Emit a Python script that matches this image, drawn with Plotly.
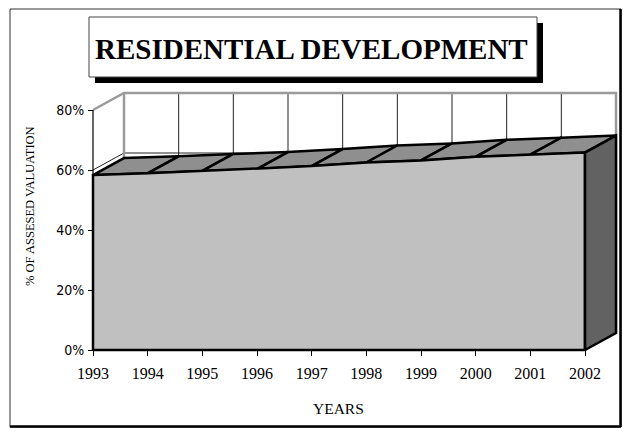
import plotly.graph_objects as go

# ---- data -------------------------------------------------------------
years = ["1993", "1994", "1995", "1996", "1997", "1998", "1999", "2000", "2001", "2002"]
residential_share = [58.3, 58.9, 59.7, 60.3, 61.3, 62.5, 63.2, 64.4, 65.1, 65.8]
value_ticks = [0, 20, 40, 60, 80]

# ---- canvas / projection ----------------------------------------------
W, H = 623, 428
PX_PER_YEAR = 54.667          # horizontal scale of the category axis
PX_PER_PCT = 3.0              # vertical scale of the value axis
X0_PX, Y0_PX = 93, 350        # pixel position of (first year, 0 %)
DEPTH_PX = (31, 17)           # oblique offset of the back plane

DX = DEPTH_PX[0] / PX_PER_YEAR
DY = DEPTH_PX[1] / PX_PER_PCT
n = len(years)
xs = list(range(n))
VMAX = value_ticks[-1]

x_range = [-X0_PX / PX_PER_YEAR, (W - X0_PX) / PX_PER_YEAR]
y_range = [-(H - Y0_PX) / PX_PER_PCT, Y0_PX / PX_PER_PCT]


def px(x):
    return x / W


def py(y):
    return 1 - y / H


SERIF = "Liberation Serif, Times New Roman, serif"
NARROW = "DejaVu Sans Condensed, Liberation Sans Narrow, Arial Narrow, sans-serif"

FRONT = "#c0c0c0"
TOP = "#8f8f8f"
SIDE = "#626262"
WALL_EDGE = "#9a9a9a"

fig = go.Figure()


def poly(xv, yv, fill, line_color="black", width=2.5):
    fig.add_trace(go.Scatter(
        x=list(xv) + [xv[0]], y=list(yv) + [yv[0]], mode="lines",
        fill="toself", fillcolor=fill,
        line=dict(color=line_color, width=width),
        hoverinfo="skip", showlegend=False))


def seg(xv, yv, color, width):
    fig.add_trace(go.Scatter(
        x=xv, y=yv, mode="lines", line=dict(color=color, width=width),
        hoverinfo="skip", showlegend=False))


# walls (left side wall and back wall)
poly([0, DX, DX, 0], [0, DY, VMAX + DY, VMAX], "white", "rgba(0,0,0,0)", 0)
poly([DX, n - 1 + DX, n - 1 + DX, DX], [DY, DY, VMAX + DY, VMAX + DY],
     "white", "rgba(0,0,0,0)", 0)

# gridlines on the walls
for v in value_ticks[:-1]:
    seg([0, DX], [v, v + DY], "#222", 1)
    seg([DX, n - 1 + DX], [v + DY, v + DY], "#222", 1)
for i in xs[1:-1]:
    seg([i + DX, i + DX], [DY, VMAX + DY], "#222", 1)

# wall outlines
seg([0, DX, n - 1 + DX, n - 1 + DX], [VMAX, VMAX + DY, VMAX + DY, DY], WALL_EDGE, 2.5)
seg([DX, DX], [DY, VMAX + DY], WALL_EDGE, 2.5)

# value axis line
seg([0, 0], [0, VMAX], "black", 1.2)

# top surface of the area, one panel per year interval
for i in xs[:-1]:
    a, b = residential_share[i], residential_share[i + 1]
    poly([i, i + 1, i + 1 + DX, i + DX], [a, b, b + DY, a + DY], TOP)

# front face
poly([0] + xs + [n - 1], [0] + residential_share + [0], FRONT)

# right side face
last = residential_share[-1]
poly([n - 1, n - 1, n - 1 + DX, n - 1 + DX], [0, last, last + DY, DY], SIDE)

# ---- frame, title box -------------------------------------------------
shapes = [
    dict(type="rect", xref="paper", yref="paper",
         x0=px(10), x1=px(621), y0=py(427), y1=py(9),
         line=dict(color="#333", width=1)),
    dict(type="line", xref="paper", yref="paper",
         x0=px(620.5), x1=px(620.5), y0=py(427), y1=py(9),
         line=dict(color="black", width=2.5)),
    dict(type="line", xref="paper", yref="paper",
         x0=px(10), x1=px(621), y0=py(426.5), y1=py(426.5),
         line=dict(color="black", width=2.5)),
    dict(type="rect", xref="paper", yref="paper",
         x0=px(95), x1=px(543), y0=py(83), y1=py(23),
         fillcolor="black", line=dict(width=0)),
    dict(type="rect", xref="paper", yref="paper",
         x0=px(89), x1=px(537), y0=py(77), y1=py(17),
         fillcolor="white", line=dict(color="#444", width=1)),
]

annotations = [
    dict(text="<b>RESIDENTIAL DEVELOPMENT</b>", xref="paper", yref="paper",
         x=px(311), y=py(49), xanchor="center", yanchor="middle",
         showarrow=False, font=dict(family=SERIF, size=29, color="black")),
    dict(text="YEARS", xref="paper", yref="paper",
         x=px(339), y=py(408), xanchor="center", yanchor="middle",
         showarrow=False, font=dict(family=SERIF, size=15.5, color="black")),
    dict(text="% OF ASSESED VALUATION", xref="paper", yref="paper",
         x=px(30), y=py(206), xanchor="center", yanchor="middle",
         textangle=-90, showarrow=False,
         font=dict(family=SERIF, size=12.5, color="black")),
]

fig.update_layout(
    width=W, height=H, margin=dict(l=0, r=0, t=0, b=0),
    template="none", paper_bgcolor="white", plot_bgcolor="white",
    showlegend=False, shapes=shapes, annotations=annotations,
    xaxis=dict(range=x_range, domain=[0, 1], anchor="free", position=py(Y0_PX),
               tickmode="array", tickvals=xs, ticktext=years,
               ticks="outside", ticklen=5, tickwidth=1, tickcolor="black",
               ticklabelstandoff=4,
               tickfont=dict(family=SERIF, size=16, color="black"),
               showgrid=False, zeroline=False, showline=False, fixedrange=True),
    yaxis=dict(range=y_range, domain=[0, 1], anchor="free", position=px(X0_PX),
               tickmode="array", tickvals=value_ticks,
               ticktext=[f"{v}%" for v in value_ticks],
               ticks="outside", ticklen=5, tickwidth=1, tickcolor="black",
               ticklabelstandoff=1,
               tickfont=dict(family=NARROW, size=14, color="black"),
               showgrid=False, zeroline=False, showline=False, fixedrange=True),
)

fig.write_html("out.html")
